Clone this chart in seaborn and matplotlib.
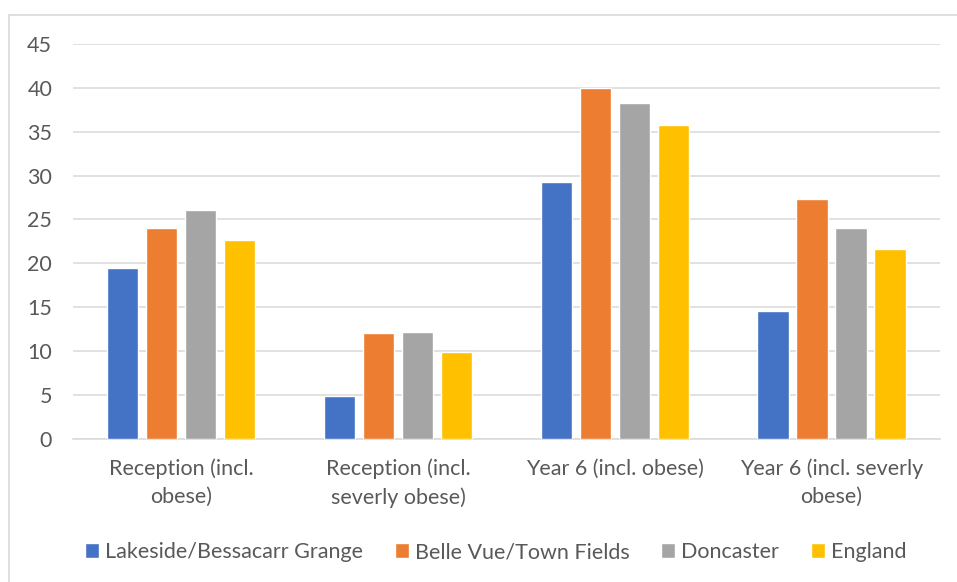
import pandas as pd
import numpy as np
import matplotlib
matplotlib.use('Agg')
import matplotlib.pyplot as plt
import seaborn as sns
from matplotlib.lines import Line2D

categories = ['Reception (incl.\nobese)', 'Reception (incl.\nseverly obese)',
              'Year 6 (incl. obese)', 'Year 6 (incl. severly\nobese)']
areas = ['Lakeside/Bessacarr Grange', 'Belle Vue/Town Fields', 'Doncaster', 'England']
lakeside = [19.5, 4.9, 29.3, 14.6]
belle_vue = [24.0, 12.0, 40.0, 27.3]
doncaster = [26.1, 12.2, 38.3, 24.0]
england = [22.6, 9.9, 35.8, 21.6]
colors = ['#4472C4', '#ED7D31', '#A5A5A5', '#FFC000']

rows = []
for area, vals in zip(areas, [lakeside, belle_vue, doncaster, england]):
    for cat, v in zip(categories, vals):
        rows.append({'cat': cat, 'area': area, 'value': v})
df = pd.DataFrame(rows)

sns.set_style('white')
plt.rcParams['font.family'] = ['Lato', 'DejaVu Sans']
text_col = '#595959'
grid_col = '#D9D9D9'
fs = 15.5

fig = plt.figure(figsize=(9.57, 5.82), dpi=100)
ax = fig.add_axes([0.0763, 0.2462, 0.9057, 0.6782])

sns.barplot(data=df, x='cat', y='value', hue='area', hue_order=areas, order=categories,
            palette=colors, width=0.72, gap=0.2, saturation=1, ax=ax, zorder=3)

ax.set_ylim(0, 45)
ax.set_yticks(np.arange(0, 46, 5))
ax.set_xlim(-0.5, 3.5)
ax.yaxis.grid(True, color=grid_col, linewidth=1.1, zorder=0)
ax.set_axisbelow(True)
for s in ['top', 'right', 'left']:
    ax.spines[s].set_visible(False)
ax.spines['bottom'].set_color(grid_col)
ax.spines['bottom'].set_linewidth(1.1)
ax.tick_params(axis='y', length=0, pad=15, labelsize=fs, labelcolor=text_col)
ax.tick_params(axis='x', length=0, pad=14.5, labelsize=fs, labelcolor=text_col)
for lbl in ax.get_xticklabels():
    lbl.set_linespacing(1.45)
ax.set_xlabel('')
ax.set_ylabel('')

handles, labels = ax.get_legend_handles_labels()
ax.legend_.remove()
fig.legend(handles, labels, loc='center', bbox_to_anchor=(0.518, 0.0515), ncol=4,
           frameon=False, fontsize=fs, labelcolor=text_col, handlelength=0.65,
           handleheight=0.65, handletextpad=0.3, columnspacing=1.45)

# chart border (left and top edges visible)
fig.add_artist(Line2D([9 / 957, 9 / 957], [0, 1 - 15 / 582], color='#D9D9D9', lw=1.2))
fig.add_artist(Line2D([9 / 957, 1], [1 - 15 / 582, 1 - 15 / 582], color='#D9D9D9', lw=1.2))

fig.savefig('out.png', dpi=100)
